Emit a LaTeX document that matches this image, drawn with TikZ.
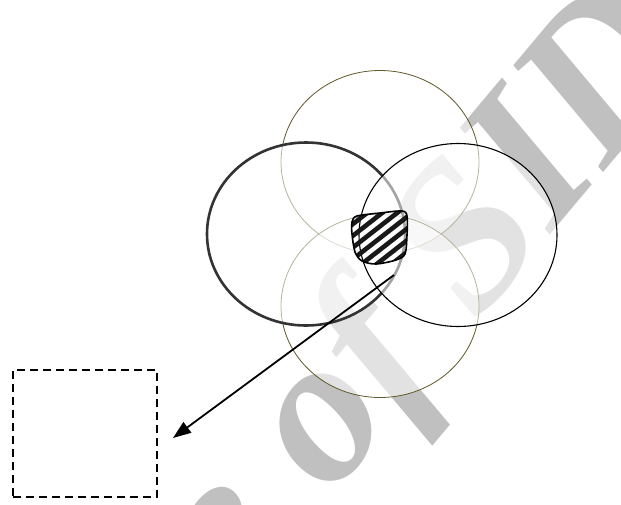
\documentclass[tikz,border=0pt]{standalone}
\usepackage{fontspec}
\newfontfamily\wmfont{Liberation Serif}
\usetikzlibrary{arrows.meta,shapes.geometric,calc}
\definecolor{ringolive}{RGB}{95,88,40}
\definecolor{wmgray}{RGB}{192,192,192}
\tikzset{
  ring/.style={ellipse,inner sep=0pt,minimum width=198pt,minimum height=183pt,fill=white,fill opacity=0.55},
  thinring/.style={ring,draw=ringolive,line width=0.8pt},
  boldring/.style={ring,draw=black!80,line width=2.6pt},
  blackring/.style={ring,draw=black,line width=1.1pt},
  wmark/.style={font=\wmfont\bfseries\itshape\fontsize{210}{210}\selectfont,text=wmgray,inner sep=0pt},
  hatch/.style={line width=4.6pt,black!90},
  rim/.style={draw=black,line width=1.6pt},
  pointer/.style={line width=1.8pt,-{Triangle[length=18pt,width=13pt]}},
  dashbox/.style={draw,dash pattern=on 8pt off 5pt,line width=1.9pt,minimum width=144pt,minimum height=127pt,inner sep=0pt}
}
\newcommand{\overlapoutline}{plot[smooth cycle] coordinates {(357,216) (380,213) (402,211) (407,216) (407,235) (405,254) (396,260) (376,264) (362,261) (355,252) (352,234) (352,222)}}

\begin{document}
\begin{tikzpicture}[x=1pt,y=-1pt]
\useasboundingbox (0,0) rectangle (621,504);
\clip (0,0) rectangle (621,504);
% watermark
\node[wmark,rotate=50,anchor=base east] (wm) at (702,55) {Archive of SID};
% four rings
\node[thinring] (top) at (380,162) {};
\node[thinring] (bottom) at (380,306) {};
\node[boldring] (left) at (306,234) {};
\node[blackring] (right) at (458,235) {};
% hatched overlap
\coordinate (hc) at (380,238);
\begin{scope}
  \clip \overlapoutline;
  \foreach \k in {-6,...,6}
    \draw[hatch] ($(hc)+(\k*15,0)+(-80,62.5)$) -- ($(hc)+(\k*15,0)+(80,-62.5)$);
\end{scope}
\draw[rim] \overlapoutline;
% pointer to the box
\node[dashbox] (box) at (85,433.5) {};
\coordinate (src) at (394,275);
\coordinate (tip) at ($(box.east)+(15,4.5)$);
\draw[pointer] (src) -- (tip);
\end{tikzpicture}
\end{document}
